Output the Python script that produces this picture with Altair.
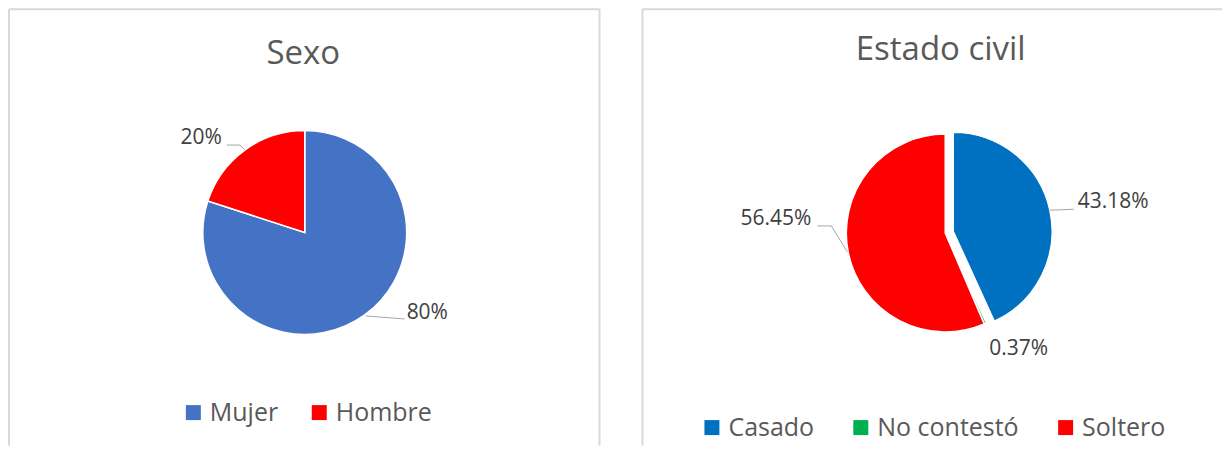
import math
import pandas as pd
import altair as alt

# ---------------- data ----------------
titles = ["Sexo", "Estado civil"]

sexo_cats = ["Mujer", "Hombre"]
sexo_vals = [80, 20]
sexo_labels = ["80%", "20%"]
sexo_colors = ["#4472C4", "#FF0000"]

civil_cats = ["Casado", "No contestó", "Soltero"]
civil_vals = [43.18, 0.37, 56.45]
civil_labels = ["43.18%", "0.37%", "56.45%"]
civil_colors = ["#0070C0", "#00B050", "#FF0000"]

FONT = "Open Sans"
BORDER = "#D9D9D9"


def panel(title, cats, vals, labels, colors, width, height, cx, cy, r,
          explode, label_layout, title_pos, legend_pos, col_pad, borders):
    df = pd.DataFrame({"cat": cats, "value": vals, "idx": list(range(len(cats)))})
    total = float(sum(vals))

    # geometry derived from the data (mid-angle of each slice)
    lab_rows, lead_rows = [], []
    cum = 0.0
    offsets = {}
    for c, v, t in zip(cats, vals, labels):
        mid = 2 * math.pi * (cum + v / 2.0) / total
        cum += v
        ex = explode.get(c, 0.0)
        ox, oy = ex * math.sin(mid), -ex * math.cos(mid)
        offsets[c] = (ox, oy)
        edge_x = cx + ox + r * math.sin(mid)
        edge_y = cy + oy - r * math.cos(mid)
        lay = label_layout[c]
        lab_rows.append({"cat": c, "text": t, "align": lay["align"],
                         "lx": edge_x + lay["text"][0], "ly": edge_y + lay["text"][1]})
        for k, (dx, dy) in enumerate(lay["leader"]):
            lead_rows.append({"cat": c, "k": k, "px": edge_x + dx, "py": edge_y + dy})
    lab_df = pd.DataFrame(lab_rows)
    lead_df = pd.DataFrame(lead_rows)

    legend = alt.Legend(
        orient="none", legendX=legend_pos[0], legendY=legend_pos[1],
        direction="horizontal", title=None, symbolType="square",
        symbolSize=225, symbolStrokeWidth=0, symbolOpacity=1,
        labelFont=FONT, labelFontSize=25, labelColor="#595959",
        labelOffset=4, columnPadding=col_pad, padding=0,
    )
    color = alt.Color("cat:N", scale=alt.Scale(domain=cats, range=colors),
                      sort=cats, legend=legend)
    theta = alt.Theta("value:Q", stack=True)
    order = alt.Order("idx:Q")
    base = alt.Chart(df)

    layers = []
    # borders
    one = pd.DataFrame({"k": [0]})
    for (x1, y1, x2, y2) in borders:
        layers.append(
            alt.Chart(one).mark_rule(color=BORDER, strokeWidth=2).encode(
                x=alt.value(x1), x2=alt.value(x2), y=alt.value(y1), y2=alt.value(y2))
        )

    ex_cats = [c for c in cats if explode.get(c, 0) > 0]
    if ex_cats:
        ec = ex_cats[0]
        layers.append(
            base.mark_arc(outerRadius=r, stroke="white", strokeWidth=1.5).encode(
                theta=theta, color=color, order=order,
                x=alt.value(cx), y=alt.value(cy),
                opacity=alt.condition(alt.datum.cat == ec, alt.value(0), alt.value(1)))
        )
        ox, oy = offsets[ec]
        layers.append(
            base.mark_arc(outerRadius=r, stroke="white", strokeWidth=1.5,
                          xOffset=ox, yOffset=oy).encode(
                theta=theta, color=color, order=order,
                x=alt.value(cx), y=alt.value(cy),
                opacity=alt.condition(alt.datum.cat == ec, alt.value(1), alt.value(0)))
        )
    else:
        layers.append(
            base.mark_arc(outerRadius=r, stroke="white", strokeWidth=1.5).encode(
                theta=theta, color=color, order=order,
                x=alt.value(cx), y=alt.value(cy))
        )

    # leader lines
    if len(lead_df):
        layers.append(
            alt.Chart(lead_df).mark_line(color="#A6A6A6", strokeWidth=1).encode(
                x=alt.X("px:Q", scale=None, axis=None),
                y=alt.Y("py:Q", scale=None, axis=None),
                detail="cat:N", order="k:Q")
        )
    # data labels
    for a in ["left", "right"]:
        sub = lab_df[lab_df["align"] == a]
        if len(sub):
            layers.append(
                alt.Chart(sub).mark_text(align=a, baseline="alphabetic", font=FONT,
                                         fontSize=21, color="#404040").encode(
                    x=alt.X("lx:Q", scale=None, axis=None),
                    y=alt.Y("ly:Q", scale=None, axis=None),
                    text="text:N")
            )
    # title
    layers.append(
        alt.Chart(pd.DataFrame({"t": [title]})).mark_text(
            align="center", baseline="alphabetic", font=FONT, fontSize=33,
            color="#595959").encode(
            text="t:N", x=alt.value(title_pos[0]), y=alt.value(title_pos[1]))
    )
    return alt.layer(*layers).properties(width=width, height=height)


H = 438
left = panel(
    titles[0], sexo_cats, sexo_vals, sexo_labels, sexo_colors,
    width=593, height=H, cx=297, cy=224.5, r=102, explode={},
    label_layout={
        "Mujer": {"leader": [(1, 1), (40, 4)], "text": (42, 4), "align": "left"},
        "Hombre": {"leader": [(0, 0), (-5, -5), (-18, -5)], "text": (-23, -6), "align": "right"},
    },
    title_pos=(295.5, 56), legend_pos=(173, 392), col_pad=28,
    borders=[(1, 1, 1, H), (1, 1, 592, 1), (592, 1, 592, H)],
)
right = panel(
    titles[1], civil_cats, civil_vals, civil_labels, civil_colors,
    width=581, height=H, cx=304, cy=225, r=99, explode={"Casado": 8.2},
    label_layout={
        "Casado": {"leader": [(0, 0), (24, -1)], "text": (28, -2), "align": "left"},
        "No contestó": {"leader": [], "text": (4, 31.5), "align": "left"},
        "Soltero": {"leader": [(-1, -1), (-17, -27), (-31, -27)], "text": (-37, -28), "align": "right"},
    },
    title_pos=(299.5, 52), legend_pos=(58, 407), col_pad=34,
    borders=[(1, 1, 1, H), (1, 1, 581, 1)],
)

chart = (
    alt.hconcat(left, right, spacing=41)
    .resolve_scale(color="independent")
    .properties(padding=0, background="white")
    .configure_view(stroke=None)
)

chart.save("out.html", embed_options={"renderer": "svg", "actions": False})
